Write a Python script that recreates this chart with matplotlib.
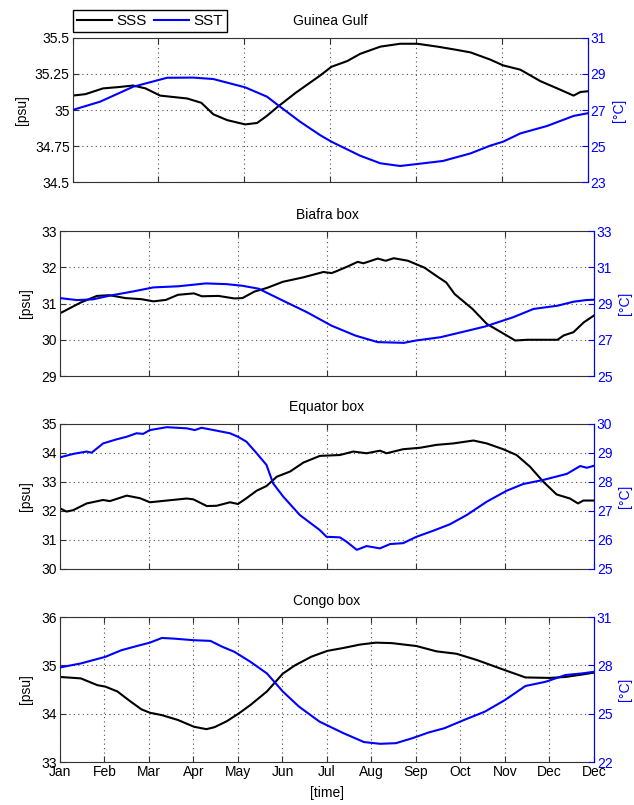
import numpy as np
import matplotlib.pyplot as plt

plt.rcParams['font.family'] = ['Liberation Sans', 'DejaVu Sans']
plt.rcParams['font.size'] = 10

# months (0 = Jan ... 12 = end of year) and values
# Guinea Gulf
gg_sss_t = [0, 0.3, 0.71, 1.1, 1.41, 1.7, 2.04, 2.67, 3.0, 3.28, 3.6, 4.02, 4.3, 4.53, 4.77, 5.2, 5.77,
            6.03, 6.4, 6.7, 7.17, 7.63, 8.03, 8.5, 8.9, 9.27, 9.73, 10.03, 10.43, 10.9, 11.29, 11.67, 11.83, 12]
gg_sss = [35.10, 35.11, 35.15, 35.16, 35.17, 35.15, 35.10, 35.08, 35.05, 34.97, 34.93, 34.90, 34.91, 34.96, 35.02, 35.12, 35.24,
          35.30, 35.34, 35.39, 35.44, 35.46, 35.46, 35.44, 35.42, 35.40, 35.35, 35.31, 35.28, 35.20, 35.15, 35.10, 35.125, 35.13]
gg_sst_t = [0, 0.64, 1.41, 2.2, 2.81, 3.28, 4.02, 4.53, 4.77, 5.3, 5.77, 6.03, 6.7, 7.17, 7.63, 8.03, 8.63,
            9.27, 9.73, 10.03, 10.43, 11.05, 11.67, 12]
gg_sst = [27.0, 27.46, 28.29, 28.79, 28.8, 28.72, 28.26, 27.74, 27.3, 26.35, 25.6, 25.24, 24.46, 24.04, 23.89, 24.0, 24.17,
          24.59, 25.02, 25.24, 25.70, 26.11, 26.67, 26.82]

# Biafra box
bb_sss_t = [0, 0.47, 0.83, 1.11, 1.47, 1.83, 2.1, 2.38, 2.65, 3.01, 3.19, 3.56, 3.92, 4.1, 4.37, 4.65, 5.01, 5.46, 5.92,
            6.1, 6.19, 6.46, 6.69, 6.82, 7.14, 7.32, 7.5, 7.82, 8.19, 8.46, 8.68, 8.87, 9.27, 9.59, 9.91, 10.23, 10.5,
            10.82, 11.18, 11.32, 11.54, 11.77, 12]
bb_sss = [30.73, 31.03, 31.21, 31.23, 31.15, 31.12, 31.06, 31.10, 31.24, 31.28, 31.20, 31.21, 31.14, 31.15, 31.33, 31.43,
          31.60, 31.72, 31.87, 31.84, 31.88, 32.02, 32.15, 32.11, 32.24, 32.18, 32.25, 32.18, 31.99, 31.76, 31.58, 31.26,
          30.85, 30.44, 30.21, 29.98, 30.0, 30.0, 30.0, 30.12, 30.21, 30.48, 30.67]
bb_sst_t = [0, 0.38, 0.74, 1.11, 1.65, 2.1, 2.65, 3.28, 3.74, 4.1, 4.46, 5.01, 5.55, 6.1, 6.64, 7.14, 7.73, 8.0, 8.55,
            9.18, 9.55, 10.18, 10.64, 11.18, 11.54, 11.82, 12]
bb_sst = [29.30, 29.19, 29.23, 29.43, 29.67, 29.89, 29.95, 30.11, 30.07, 29.98, 29.82, 29.16, 28.52, 27.78, 27.23, 26.87,
          26.83, 26.96, 27.14, 27.51, 27.73, 28.24, 28.70, 28.88, 29.10, 29.19, 29.21]

# Equator box
eq_sss_t = [0, 0.15, 0.3, 0.6, 0.97, 1.12, 1.5, 1.8, 2.02, 2.4, 2.85, 3.0, 3.3, 3.52, 3.82, 4.0, 4.19, 4.42, 4.64, 4.87,
            5.17, 5.47, 5.84, 6.29, 6.59, 6.89, 7.19, 7.34, 7.71, 8.09, 8.46, 8.84, 9.29, 9.59, 9.96, 10.26, 10.56,
            10.86, 11.16, 11.46, 11.64, 11.76, 12]
eq_sss = [32.09, 31.98, 32.03, 32.26, 32.38, 32.34, 32.53, 32.44, 32.30, 32.36, 32.43, 32.40, 32.17, 32.18, 32.30, 32.24,
          32.44, 32.70, 32.86, 33.18, 33.36, 33.67, 33.90, 33.93, 34.05, 33.99, 34.08, 33.99, 34.13, 34.18, 34.28, 34.33,
          34.43, 34.33, 34.13, 33.93, 33.53, 33.01, 32.57, 32.43, 32.26, 32.36, 32.36]
eq_sst_t = [0, 0.3, 0.6, 0.71, 0.97, 1.27, 1.5, 1.72, 1.87, 2.02, 2.4, 2.85, 3.03, 3.18, 3.52, 3.82, 4.0, 4.19, 4.42,
            4.64, 4.79, 5.02, 5.39, 5.84, 5.99, 6.29, 6.44, 6.67, 6.89, 7.19, 7.42, 7.71, 8.01, 8.39, 8.76, 9.14, 9.59,
            10.04, 10.41, 10.86, 11.39, 11.69, 11.84, 12]
eq_sst = [28.85, 28.97, 29.05, 29.01, 29.33, 29.47, 29.56, 29.68, 29.66, 29.79, 29.89, 29.85, 29.79, 29.87, 29.77, 29.68,
          29.56, 29.39, 28.99, 28.59, 27.95, 27.49, 26.86, 26.34, 26.11, 26.09, 25.94, 25.66, 25.79, 25.71, 25.86, 25.89,
          26.11, 26.32, 26.54, 26.86, 27.32, 27.70, 27.93, 28.07, 28.28, 28.55, 28.49, 28.56]

# Congo box
cg_sss_t = [0, 0.47, 0.84, 1.02, 1.29, 1.56, 1.83, 2.02, 2.29, 2.65, 3.01, 3.29, 3.47, 3.74, 4.01, 4.28, 4.65, 5.01,
            5.28, 5.65, 6.01, 6.37, 6.74, 7.1, 7.46, 8.01, 8.46, 8.91, 9.37, 10.0, 10.46, 11.0, 11.36, 11.73, 12]
cg_sss = [34.76, 34.73, 34.59, 34.56, 34.46, 34.27, 34.09, 34.02, 33.97, 33.87, 33.73, 33.68, 33.72, 33.84, 34.00, 34.18,
          34.46, 34.83, 35.00, 35.18, 35.30, 35.36, 35.43, 35.47, 35.46, 35.40, 35.29, 35.24, 35.11, 34.90, 34.75, 34.74,
          34.76, 34.81, 34.85]
cg_sst_t = [0, 0.47, 1.02, 1.38, 1.74, 2.02, 2.29, 2.56, 3.01, 3.38, 3.65, 3.92, 4.28, 4.65, 5.01, 5.37, 5.83, 6.37,
            6.83, 7.19, 7.55, 7.92, 8.28, 8.64, 9.09, 9.55, 10.0, 10.46, 10.91, 11.36, 11.73, 12]
cg_sst = [27.87, 28.12, 28.53, 28.94, 29.21, 29.41, 29.70, 29.66, 29.56, 29.52, 29.15, 28.84, 28.22, 27.50, 26.37, 25.44,
          24.51, 23.79, 23.24, 23.13, 23.17, 23.48, 23.83, 24.10, 24.62, 25.13, 25.85, 26.72, 26.98, 27.40, 27.50, 27.60]

titles = ['Guinea Gulf', 'Biafra box', 'Equator box', 'Congo box']
month_labels = ['Jan', 'Feb', 'Mar', 'Apr', 'May', 'Jun', 'Jul', 'Aug', 'Sep', 'Oct', 'Nov', 'Dec', 'Dec']

panels = [
    (gg_sss_t, gg_sss, gg_sst_t, gg_sst, [34.5, 34.75, 35, 35.25, 35.5], ['34.5', '34.75', '35', '35.25', '35.5'], [23, 25, 27, 29, 31]),
    (bb_sss_t, bb_sss, bb_sst_t, bb_sst, [29, 30, 31, 32, 33], ['29', '30', '31', '32', '33'], [25, 27, 29, 31, 33]),
    (eq_sss_t, eq_sss, eq_sst_t, eq_sst, [30, 31, 32, 33, 34, 35], ['30', '31', '32', '33', '34', '35'], [25, 26, 27, 28, 29, 30]),
    (cg_sss_t, cg_sss, cg_sst_t, cg_sst, [33, 34, 35, 36], ['33', '34', '35', '36'], [22, 25, 28, 31]),
]

# axes positions in figure fractions (top panel is narrower, as in the original)
positions = [
    [0.1144, 0.7739, 0.8126, 0.1789],
    [0.0946, 0.5329, 0.8423, 0.1801],
    [0.0946, 0.2932, 0.8423, 0.1801],
    [0.0946, 0.0534, 0.8423, 0.1801],
]

axcol = '0.2'
fig = plt.figure(figsize=(6.34, 8.05), dpi=100)

for i, (t1, s, t2, tt, lt, ll, rt) in enumerate(panels):
    ax = fig.add_axes(positions[i])
    ax.plot(t1, s, color='black', lw=1.5)
    ax.set_xlim(0, 12)
    ax.set_ylim(lt[0], lt[-1])
    ax.set_yticks(lt)
    ax.set_yticklabels(ll)
    if i == 3:
        ax.set_xticks(range(13))
        ax.set_xticklabels(month_labels)
        ax.set_xlabel('[time]', labelpad=5)
    else:
        ax.set_xticks(range(0, 13, 2))
        ax.set_xticklabels([])
    ax.grid(True, linestyle=(0, (1, 3)), color='0.3', lw=0.8)
    ax.tick_params(direction='in', top=True, right=False, length=4, color=axcol, pad=2)
    for sp in ax.spines.values():
        sp.set_color(axcol)
    ax.set_ylabel('[psu]', labelpad=6 if i > 0 else 4)
    ax.set_title(titles[i], fontsize=10, pad=9)

    ax2 = ax.twinx()
    ax2.plot(t2, tt, color='blue', lw=1.5)
    ax2.set_ylim(rt[0], rt[-1])
    ax2.set_yticks(rt)
    ax2.tick_params(direction='in', colors='blue', length=4, pad=2)
    for name, sp in ax2.spines.items():
        sp.set_visible(name == 'right')
    ax2.spines['right'].set_color('blue')
    ax2.set_ylabel('[°C]', color='blue', labelpad=4)

    if i == 0:
        h1 = ax.get_lines()[0]
        h2 = ax2.get_lines()[0]
        fig.legend([h1, h2], ['SSS', 'SST'], loc='lower left',
                   bbox_to_anchor=(73 / 634, 1 - 32 / 805, 154 / 634, 25 / 805), mode='expand',
                   ncol=2, frameon=True, fancybox=False, edgecolor='black', framealpha=1,
                   borderaxespad=0, handlelength=2.3, handletextpad=0.3, columnspacing=0.6,
                   borderpad=0.25, fontsize=11)

fig.savefig('out.png', dpi=100)
